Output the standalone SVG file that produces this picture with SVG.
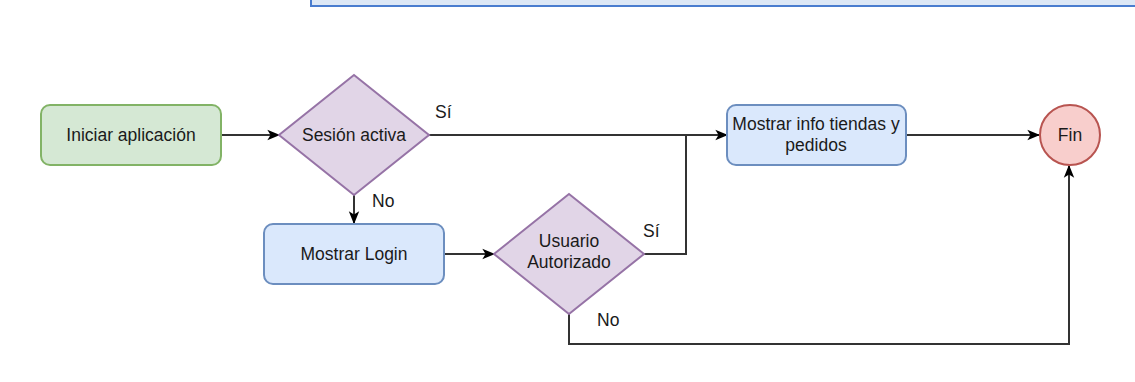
<svg xmlns="http://www.w3.org/2000/svg" width="1135" height="382" viewBox="0 0 1135 382">
<defs>
<style>
.t{font-family:"Liberation Sans",Arial,sans-serif;font-size:17.5px;fill:#1a1a1a;text-anchor:middle;dominant-baseline:central}
.l{font-family:"Liberation Sans",Arial,sans-serif;font-size:17.5px;fill:#1a1a1a;dominant-baseline:central}
.e{fill:none;stroke:#333;stroke-width:2}
</style>
<marker id="a" viewBox="0 0 10 10" refX="9" refY="5" markerWidth="13" markerHeight="13" markerUnits="userSpaceOnUse" orient="auto">
<path d="M0,1 L10,5 L0,9 L2.5,5 Z" fill="#000"/>
</marker>
</defs>
<rect width="1135" height="382" fill="#fff"/>
<g id="topbox"><rect x="311" y="-20" width="840" height="26" fill="#dde8f6" stroke="#4a7dcf" stroke-width="2"/></g>
<g id="connectors">
<path class="e" d="M221,135 L279,135" marker-end="url(#a)"/>
<path class="e" d="M429,135 L716,135"/>
<path class="e" d="M700,135 L727,135" marker-end="url(#a)"/>
<path class="e" d="M354,195 L354,223" marker-end="url(#a)"/>
<path class="e" d="M444,254 L494,254" marker-end="url(#a)"/>
<path class="e" d="M644,254 L686,254 L686,135"/>
<path class="e" d="M906,135 L1039,135" marker-end="url(#a)"/>
<path class="e" d="M569,314 L569,344 L1069,344 L1069,166" marker-end="url(#a)"/>
</g>
<g id="start">
<rect x="41" y="105" width="180" height="60" rx="9" fill="#d5e8d4" stroke="#82b366" stroke-width="2"/>
<text class="t" x="131" y="135">Iniciar aplicación</text>
</g>
<g id="sesion">
<path d="M354,75 L429,135 L354,195 L279,135 Z" fill="#e1d5e7" stroke="#9673a6" stroke-width="2"/>
<text class="t" x="354" y="135">Sesión activa</text>
</g>
<g id="login">
<rect x="264" y="224" width="180" height="60" rx="9" fill="#dae8fc" stroke="#6c8ebf" stroke-width="2"/>
<text class="t" x="354" y="254">Mostrar Login</text>
</g>
<g id="usuario">
<path d="M569,194 L644,254 L569,314 L494,254 Z" fill="#e1d5e7" stroke="#9673a6" stroke-width="2"/>
<text class="t" x="569" y="241">Usuario</text>
<text class="t" x="569" y="262">Autorizado</text>
</g>
<g id="info">
<rect x="727" y="105" width="179" height="60" rx="9" fill="#dae8fc" stroke="#6c8ebf" stroke-width="2"/>
<text class="t" x="816" y="124">Mostrar info tiendas y</text>
<text class="t" x="816" y="145">pedidos</text>
</g>
<g id="fin">
<circle cx="1070" cy="135" r="30" fill="#f8cecc" stroke="#b85450" stroke-width="2"/>
<text class="t" x="1070" y="135">Fin</text>
</g>
<g id="labels">
<text class="l" x="435" y="112">Sí</text>
<text class="l" x="372" y="201">No</text>
<text class="l" x="643" y="231">Sí</text>
<text class="l" x="597" y="320">No</text>
</g>
</svg>
